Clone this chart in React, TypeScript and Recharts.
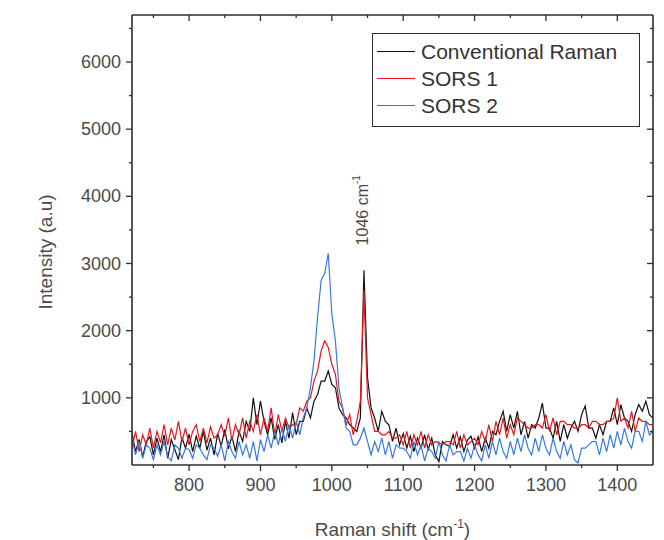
import React from "react";
import { LineChart, Line, XAxis, YAxis, ReferenceDot } from "recharts";

// Raman shift (cm-1), 720..1450 in 5 cm-1 steps
const shift = [
  720, 725, 730, 735, 740, 745, 750, 755, 760, 765, 770, 775, 780, 785, 790, 795, 800,
  805, 810, 815, 820, 825, 830, 835, 840, 845, 850, 855, 860, 865, 870, 875, 880, 885, 890, 895, 900,
  905, 910, 915, 920, 925, 930, 935, 940, 945, 950, 955, 960, 965, 970, 975, 980, 985, 990, 995, 1000,
  1005, 1010, 1015, 1020, 1025, 1030, 1035, 1040, 1045, 1050, 1055, 1060, 1065, 1070, 1075, 1080, 1085, 1090, 1095, 1100,
  1105, 1110, 1115, 1120, 1125, 1130, 1135, 1140, 1145, 1150, 1155, 1160, 1165, 1170, 1175, 1180, 1185, 1190, 1195, 1200,
  1205, 1210, 1215, 1220, 1225, 1230, 1235, 1240, 1245, 1250, 1255, 1260, 1265, 1270, 1275, 1280, 1285, 1290, 1295, 1300,
  1305, 1310, 1315, 1320, 1325, 1330, 1335, 1340, 1345, 1350, 1355, 1360, 1365, 1370, 1375, 1380, 1385, 1390, 1395, 1400,
  1405, 1410, 1415, 1420, 1425, 1430, 1435, 1440, 1445, 1450,
];

const conventional = [
  480, 200, 380, 120, 350, 420, 150, 400, 200, 450, 100, 380, 230, 80, 410, 250, 460,
  200, 430, 250, 500, 220, 400, 150, 470, 280, 530, 240, 430, 200, 500, 350, 650, 500, 1000, 600, 950,
  650, 450, 700, 380, 600, 330, 650, 400, 780, 450, 650, 650, 850, 700, 950, 1050, 1250, 1250, 1400, 1200,
  1150, 850, 750, 700, 600, 550, 500, 700, 2900, 1300, 850, 700, 500, 800, 650, 600, 350, 550, 300, 470,
  250, 430, 200, 400, 250, 450, 230, 400, 150, 50, 350, 300, 280, 450, 250, 420, 200, 370, 430, 250,
  420, 200, 400, 250, 500, 450, 650, 800, 500, 750, 550, 800, 450, 650, 400, 600, 550, 700, 920, 550,
  550, 400, 650, 350, 600, 400, 550, 650, 500, 750, 880, 550, 550, 400, 600, 450, 650, 650, 850, 600,
  900, 700, 650, 500, 750, 900, 800, 950, 750, 700,
];

const sors1 = [
  250, 500, 200, 450, 300, 550, 250, 500, 330, 600, 300, 550, 370, 650, 350, 550, 300,
  500, 600, 350, 550, 330, 570, 400, 450, 600, 430, 700, 370, 600, 450, 700, 400, 650, 500, 750, 450,
  700, 500, 850, 450, 750, 500, 700, 550, 600, 600, 850, 800, 950, 1000, 1250, 1400, 1700, 1850, 1750, 1500,
  1350, 950, 850, 600, 750, 450, 650, 950, 2600, 1000, 750, 500, 500, 450, 450, 500, 400, 400, 450, 300,
  500, 250, 450, 300, 500, 250, 450, 300, 350, 330, 300, 350, 350, 300, 500, 250, 450, 300, 350, 400,
  300, 500, 350, 600, 350, 650, 450, 700, 400, 600, 450, 700, 650, 600, 550, 550, 600, 600, 550, 750,
  500, 700, 450, 650, 650, 600, 600, 550, 550, 600, 600, 550, 650, 650, 600, 600, 650, 650, 700, 1000,
  650, 700, 550, 800, 500, 700, 650, 650, 600, 600,
];

const sors2 = [
  400, 150, 350, 100, 300, 250, 80, 300, 150, 350, 130, 60, 300, 250, 100, 250, 230,
  100, 300, 250, 150, 80, 300, 250, 130, 300, 60, 350, 200, 100, 350, 150, 300, 100, 350, 60, 380,
  200, 450, 250, 500, 300, 550, 350, 600, 400, 650, 450, 700, 850, 1150, 1550, 2200, 2750, 2850, 3150, 2250,
  1850, 1150, 850, 550, 500, 300, 300, 400, 550, 350, 150, 350, 200, 400, 150, 350, 100, 300, 250, 250,
  200, 100, 350, 150, 300, 60, 250, 200, 100, 350, 150, 60, 300, 150, 200, 200, 60, 250, 100, 300,
  150, 60, 300, 100, 350, 150, 400, 200, 100, 350, 150, 400, 200, 450, 250, 150, 400, 200, 450, 250,
  150, 400, 200, 100, 350, 150, 300, 80, 30, 250, 250, 300, 350, 350, 150, 400, 200, 450, 250, 500,
  300, 550, 350, 250, 500, 500, 350, 650, 450, 500,
];

const xMajor = [800, 900, 1000, 1100, 1200, 1300, 1400];
const xTicks = [750, 800, 850, 900, 950, 1000, 1050, 1100, 1150, 1200, 1250, 1300, 1350, 1400];
const yMajor = [1000, 2000, 3000, 4000, 5000, 6000];
const yTicks = [500, 1000, 1500, 2000, 2500, 3000, 3500, 4000, 4500, 5000, 5500, 6000, 6500];

const seriesNames = ["Conventional Raman", "SORS 1", "SORS 2"];
const seriesColors = ["#111111", "#e3171d", "#3a78e0"];

const data = shift.map((x, i) => ({
  x,
  conventional: conventional[i],
  sors1: sors1[i],
  sors2: sors2[i],
}));

const FONT = "'Liberation Sans', Arial, sans-serif";
const AXIS = "#2e2e2e";
const TEXT = "#4a4a4a";

const BottomTick = (props: any) => {
  const { x, y, payload } = props;
  const major = xMajor.includes(payload.value);
  return (
    <g>
      <line x1={x} x2={x} y1={y} y2={y + (major ? 6 : 3)} stroke={AXIS} strokeWidth={1.3} />
      {major && (
        <text x={x} y={y + 26} textAnchor="middle" fill={TEXT} fontSize={18} fontFamily={FONT}>
          {payload.value}
        </text>
      )}
    </g>
  );
};

const TopTick = (props: any) => {
  const { x, y, payload } = props;
  const major = xMajor.includes(payload.value);
  return <line x1={x} x2={x} y1={y} y2={y + (major ? 6 : 3)} stroke={AXIS} strokeWidth={1.3} />;
};

const LeftTick = (props: any) => {
  const { x, y, payload } = props;
  const major = yMajor.includes(payload.value);
  return (
    <g>
      <line x1={x} x2={x - (major ? 6 : 3)} y1={y} y2={y} stroke={AXIS} strokeWidth={1.3} />
      {major && (
        <text x={x - 11} y={y} textAnchor="end" dominantBaseline="central" fill={TEXT} fontSize={18} fontFamily={FONT}>
          {payload.value}
        </text>
      )}
    </g>
  );
};

const RightTick = (props: any) => {
  const { x, y, payload } = props;
  const major = yMajor.includes(payload.value);
  return <line x1={x} x2={x - (major ? 6 : 3)} y1={y} y2={y} stroke={AXIS} strokeWidth={1.3} />;
};

const XTitle = (props: any) => {
  const { viewBox } = props;
  const cx = viewBox.x + viewBox.width / 2;
  return (
    <text x={cx} y={536} textAnchor="middle" fill={TEXT} fontSize={19} fontFamily={FONT}>
      Raman shift (cm
      <tspan dy={-8} fontSize={12}>-1</tspan>
      <tspan dy={8}>)</tspan>
    </text>
  );
};

const YTitle = (props: any) => {
  const { viewBox } = props;
  const cy = viewBox.y + viewBox.height / 2 + 12;
  return (
    <text
      x={45}
      y={cy}
      transform={`rotate(-90 45 ${cy})`}
      textAnchor="middle"
      dominantBaseline="central"
      fill={TEXT}
      fontSize={19}
      fontFamily={FONT}
    >
      Intensity (a.u)
    </text>
  );
};

const PeakLabel = (props: any) => {
  const { viewBox } = props;
  const x = viewBox.x - 2;
  const y = viewBox.y;
  return (
    <text
      x={x}
      y={y}
      transform={`rotate(-90 ${x} ${y})`}
      textAnchor="start"
      dominantBaseline="central"
      fill={TEXT}
      fontSize={16}
      fontFamily={FONT}
    >
      1046 cm
      <tspan dy={-7} fontSize={10}>-1</tspan>
    </text>
  );
};

const LegendBox = () => (
  <div
    style={{
      position: "absolute",
      left: 372,
      top: 33,
      width: 268,
      height: 94,
      border: `1px solid ${AXIS}`,
      background: "#fff",
      boxSizing: "border-box",
      padding: "4px 0 0 4px",
      fontFamily: FONT,
      fontSize: 21,
      color: "#333",
    }}
  >
    {seriesNames.map((name, i) => (
      <div key={name} style={{ display: "flex", alignItems: "center", height: 27 }}>
        <div style={{ width: 38, height: 0, borderTop: `1.5px solid ${seriesColors[i]}`, marginRight: 6 }} />
        <span>{name}</span>
      </div>
    ))}
  </div>
);

export default function App() {
  return (
    <div style={{ position: "absolute", left: 0, top: 0, width: 664, height: 540, background: "#fff" }}>
      <LineChart width={664} height={540} data={data} margin={{ top: 14, right: 10, bottom: 45, left: 72 }}>
        <XAxis
          xAxisId="b"
          dataKey="x"
          type="number"
          domain={[720, 1450]}
          allowDataOverflow
          ticks={xTicks}
          interval={0}
          height={30}
          tickSize={0}
          tickMargin={0}
          tickLine={false}
          tick={<BottomTick />}
          axisLine={{ stroke: AXIS, strokeWidth: 1.6 }}
          label={<XTitle />}
        />
        <XAxis
          xAxisId="t"
          orientation="top"
          dataKey="x"
          type="number"
          domain={[720, 1450]}
          allowDataOverflow
          ticks={xTicks}
          interval={0}
          height={1}
          tickSize={0}
          tickMargin={0}
          tickLine={false}
          tick={<TopTick />}
          axisLine={{ stroke: AXIS, strokeWidth: 1.6 }}
        />
        <YAxis
          yAxisId="l"
          type="number"
          domain={[0, 6700]}
          allowDataOverflow
          ticks={yTicks}
          interval={0}
          width={60}
          tickSize={0}
          tickMargin={0}
          tickLine={false}
          tick={<LeftTick />}
          axisLine={{ stroke: AXIS, strokeWidth: 1.6 }}
          label={<YTitle />}
        />
        <YAxis
          yAxisId="r"
          orientation="right"
          type="number"
          domain={[0, 6700]}
          allowDataOverflow
          ticks={yTicks}
          interval={0}
          width={1}
          tickSize={0}
          tickMargin={0}
          tickLine={false}
          tick={<RightTick />}
          axisLine={{ stroke: AXIS, strokeWidth: 1.6 }}
        />
        <Line xAxisId="b" yAxisId="l" dataKey="conventional" name={seriesNames[0]} stroke={seriesColors[0]} strokeWidth={1.2} dot={false} isAnimationActive={false} />
        <Line xAxisId="b" yAxisId="l" dataKey="sors1" name={seriesNames[1]} stroke={seriesColors[1]} strokeWidth={1.2} dot={false} isAnimationActive={false} />
        <Line xAxisId="b" yAxisId="l" dataKey="sors2" name={seriesNames[2]} stroke={seriesColors[2]} strokeWidth={1.2} dot={false} isAnimationActive={false} />
        <ReferenceDot xAxisId="b" yAxisId="l" x={1046} y={3270} r={0} fill="none" stroke="none" label={<PeakLabel />} />
      </LineChart>
      <LegendBox />
    </div>
  );
}
